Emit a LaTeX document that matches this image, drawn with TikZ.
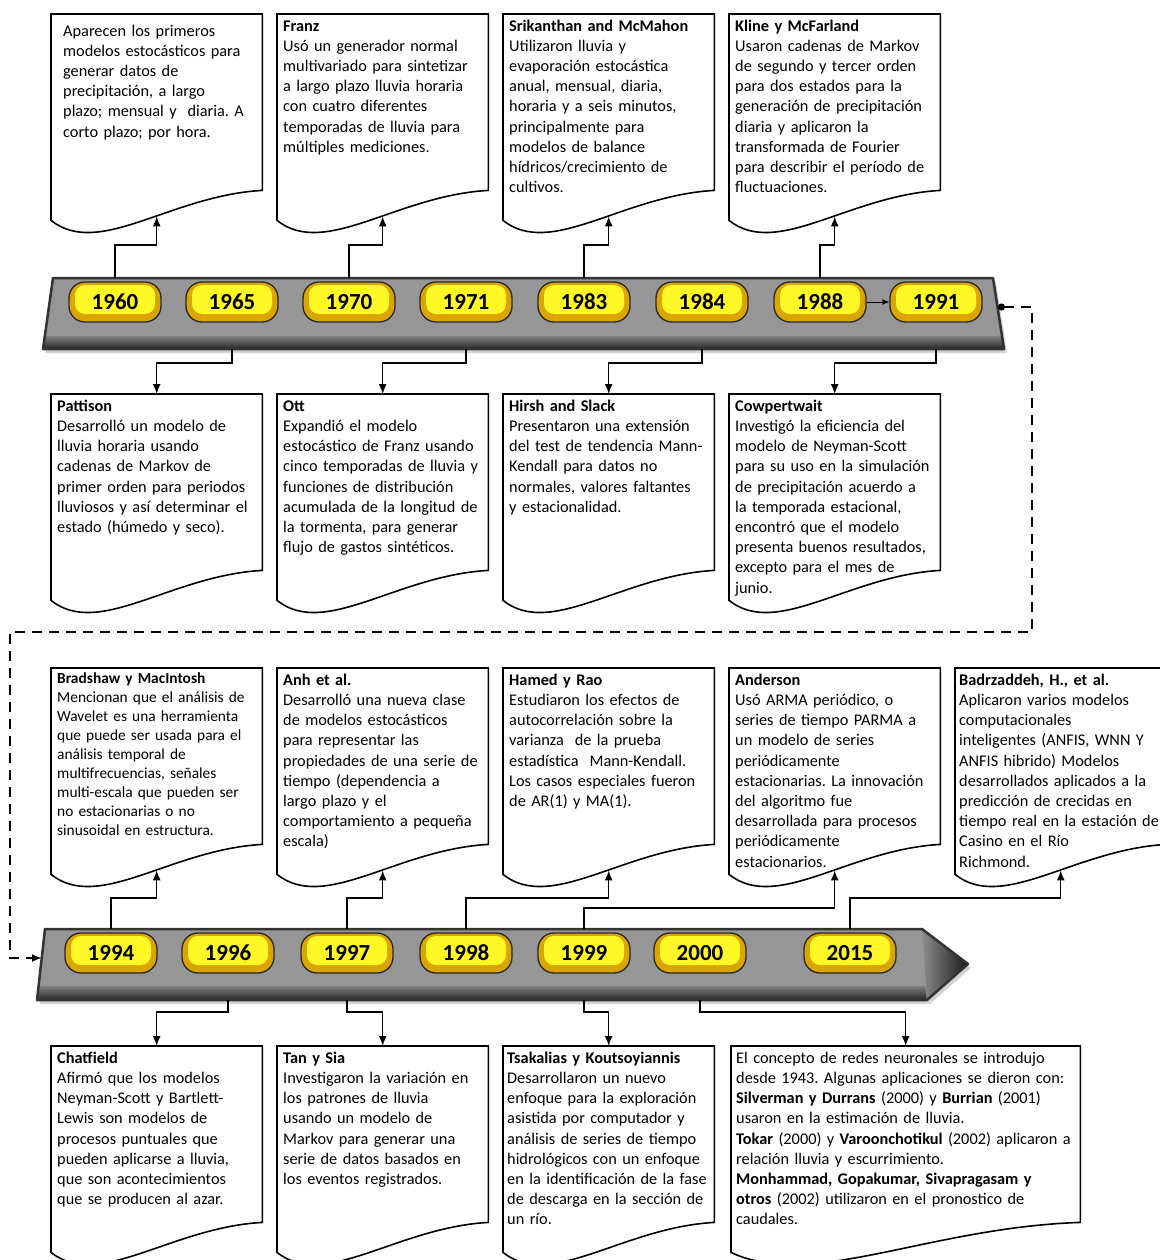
\documentclass[tikz,border=0pt]{standalone}
\usepackage{fontspec}
\setmainfont{Carlito}
\usetikzlibrary{arrows.meta,shadows}
\definecolor{btngold}{RGB}{218,165,0}
\definecolor{btnface}{RGB}{255,247,38}
\definecolor{bargray}{RGB}{150,150,150}
\frenchspacing
\tikzset{
    docbox/.style ={anchor=north west,text width=199pt,align=left,inner xsep=6pt,inner ysep=5pt,
        text height=12pt,text depth=154pt,font=\fontsize{16.3}{20.2}\selectfont},
    docline/.style ={draw=black,line width=1.6pt},
    yearbtn/.style ={rounded corners=16pt,minimum width=92pt,minimum height=40pt,draw=black!85,
        line width=1.3pt,fill=btngold,font=\fontsize{23}{23}\selectfont\bfseries,
        path picture={\fill[btnface,rounded corners=10pt]
            ([shift={(6pt,-3pt)}]path picture bounding box.north west) rectangle
            ([shift={(-6pt,8pt)}]path picture bounding box.south east);}},
    link/.style ={line width=1.5pt,-{Latex[length=10pt,width=8pt]}},
    dashlink/.style ={line width=2.4pt,dash pattern=on 10pt off 7pt,
        {Circle[length=7pt]}-{Latex[length=10pt,width=8pt]}},
    barbody/.style ={fill=bargray,drop shadow={shadow xshift=3pt,shadow yshift=-4pt,opacity=.35}},
    barband/.style ={top color=black!50,bottom color=black!85},
    barframe/.style ={draw=black!80,line width=2.5pt,line join=round}
}
\begin{document}
\begin{tikzpicture}[x=1pt,y=-1pt]
\useasboundingbox (0,0) rectangle (1159,1260);

% timeline 1
\fill[barbody] (53,278) -- (993,278) -- (1004,349) -- (43,349) -- cycle;
\shade[barband] (45,336) -- (1002,336) -- (1004,349) -- (43,349) -- cycle;
\draw[barframe] (53,278) -- (993,278) -- (1004,349) -- (43,349) -- cycle;
\coordinate (tl1top) at (0,278);
\coordinate (tl1bot) at (0,349);
\coordinate (tl1out) at (998,307);

% timeline 2
\fill[barbody] (45,929) -- (922,929) -- (968,964) -- (927,1000) -- (37,1000) -- cycle;
\shade[barband] (39,986) -- (925,986) -- (927,1000) -- (37,1000) -- cycle;
\shade[left color=black!45,right color=black!90] (922,929) -- (968,964) -- (927,1000) -- cycle;
\draw[barframe] (45,929) -- (922,929) -- (968,964) -- (927,1000) -- (37,1000) -- cycle;
\coordinate (tl2top) at (0,929);
\coordinate (tl2bot) at (0,1000);
\coordinate (tl2in) at (42,958);

% years
\node[yearbtn] (y1960) at (115,302) {1960};
\node[yearbtn] (y1965) at (232,302) {1965};
\node[yearbtn] (y1970) at (349,302) {1970};
\node[yearbtn] (y1971) at (466,302) {1971};
\node[yearbtn] (y1983) at (584,302) {1983};
\node[yearbtn] (y1984) at (702,302) {1984};
\node[yearbtn] (y1988) at (820,302) {1988};
\node[yearbtn] (y1991) at (936,302) {1991};
\node[yearbtn] (y1994) at (111,953) {1994};
\node[yearbtn] (y1996) at (228,953) {1996};
\node[yearbtn] (y1997) at (347,953) {1997};
\node[yearbtn] (y1998) at (466,953) {1998};
\node[yearbtn] (y1999) at (584,953) {1999};
\node[yearbtn] (y2000) at (700,953) {2000};
\node[yearbtn] (y2015) at (850,953) {2015};

% boxes, row 1
\node[docbox,inner xsep=12pt,text width=187pt,inner ysep=10pt,text depth=144pt] (bA) at (51,14)
    {Aparecen los primeros\\ modelos estocásticos para\\ generar datos de\\ precipitación, a largo\\ plazo; mensual y\ \ diaria. A\\ corto plazo; por hora.};
\node[docbox] (bB) at (277,14)
    {\textbf{Franz}\\ Usó un generador normal\\ multivariado para sintetizar\\ a largo plazo lluvia horaria\\ con cuatro diferentes\\ temporadas de lluvia para\\ múltiples mediciones.};
\node[docbox] (bC) at (503,14)
    {\textbf{Srikanthan and McMahon}\\ Utilizaron lluvia y\\ evaporación estocástica\\ anual, mensual, diaria,\\ horaria y a seis minutos,\\ principalmente para\\ modelos de balance\\ hídricos/crecimiento de\\ cultivos.};
\node[docbox] (bD) at (729,14)
    {\textbf{Kline y McFarland}\\ Usaron cadenas de Markov\\ de segundo y tercer orden\\ para dos estados para la\\ generación de precipitación\\ diaria y aplicaron la\\ transformada de Fourier\\ para describir el período de\\ fluctuaciones.};

% boxes, row 2
\node[docbox] (bE) at (51,394)
    {\textbf{Pattison}\\ Desarrolló un modelo de\\ lluvia horaria usando\\ cadenas de Markov de\\ primer orden para periodos\\ lluviosos y así determinar el\\ estado (húmedo y seco).};
\node[docbox] (bF) at (277,394)
    {\textbf{Ott}\\ Expandió el modelo\\ estocástico de Franz usando\\ cinco temporadas de lluvia y\\ funciones de distribución\\ acumulada de la longitud de\\ la tormenta, para generar\\ flujo de gastos sintéticos.};
\node[docbox] (bG) at (503,394)
    {\textbf{Hirsh and Slack}\\ Presentaron una extensión\\ del test de tendencia Mann-\\ Kendall para datos no\\ normales, valores faltantes\\ y estacionalidad.};
\node[docbox] (bH) at (729,394)
    {\textbf{Cowpertwait}\\ Investigó la eficiencia del\\ modelo de Neyman-Scott\\ para su uso en la simulación\\ de precipitación acuerdo a\\ la temporada estacional,\\ encontró que el modelo\\ presenta buenos resultados,\\ excepto para el mes de\\ junio.};

% boxes, row 3
\node[docbox,font=\fontsize{15.4}{19}\selectfont,inner ysep=3pt,text depth=158pt] (bI) at (51,668)
    {\textbf{Bradshaw y MacIntosh}\\ Mencionan que el análisis de\\ Wavelet es una herramienta\\ que puede ser usada para el\\ análisis temporal de\\ multifrecuencias, señales\\ multi-escala que pueden ser\\ no estacionarias o no\\ sinusoidal en estructura.};
\node[docbox] (bJ) at (277,668)
    {\textbf{Anh et al.}\\ Desarrolló una nueva clase\\ de modelos estocásticos\\ para representar las\\ propiedades de una serie de\\ tiempo (dependencia a\\ largo plazo y el\\ comportamiento a pequeña\\ escala)};
\node[docbox] (bK) at (503,668)
    {\textbf{Hamed y Rao}\\ Estudiaron los efectos de\\ autocorrelación sobre la\\ varianza\ \ de la prueba\\ estadística\ \ Mann-Kendall.\\ Los casos especiales fueron\\ de AR(1) y MA(1).};
\node[docbox] (bL) at (729,668)
    {\textbf{Anderson}\\ Usó ARMA periódico, o\\ series de tiempo PARMA a\\ un modelo de series\\ periódicamente\\ estacionarias. La innovación\\ del algoritmo fue\\ desarrollada para procesos\\ periódicamente\\ estacionarios.};
\node[docbox,inner xsep=4pt,text width=203pt] (bM) at (955,668)
    {\textbf{Badrzaddeh, H., et al.}\\ Aplicaron varios modelos\\ computacionales\\ inteligentes (ANFIS, WNN Y\\ ANFIS hibrido) Modelos\\ desarrollados aplicados a la\\ predicción de crecidas en\\ tiempo real en la estación de\\ Casino en el Río\\ Richmond.};

% boxes, row 4
\node[docbox] (bN) at (51,1046)
    {\textbf{Chatfield}\\ Afirmó que los modelos\\ Neyman-Scott y Bartlett-\\ Lewis son modelos de\\ procesos puntuales que\\ pueden aplicarse a lluvia,\\ que son acontecimientos\\ que se producen al azar.};
\node[docbox] (bO) at (277,1046)
    {\textbf{Tan y Sia}\\ Investigaron la variación en\\ los patrones de lluvia\\ usando un modelo de\\ Markov para generar una\\ serie de datos basados en\\ los eventos registrados.};
\node[docbox,inner xsep=4pt,text width=203pt] (bP) at (503,1046)
    {\textbf{Tsakalias y Koutsoyiannis}\\ Desarrollaron un nuevo\\ enfoque para la exploración\\ asistida por computador y\\ análisis de series de tiempo\\ hidrológicos con un enfoque\\ en la identificación de la fase\\ de descarga en la sección de\\ un río.};
\node[docbox,text width=339pt,inner xsep=5pt] (bQ) at (731,1046)
    {El concepto de redes neuronales se introdujo\\ desde 1943. Algunas aplicaciones se dieron con:\\
     \textbf{Silverman y Durrans} (2000) y \textbf{Burrian} (2001)\\ usaron en la estimación de lluvia.\\
     \textbf{Tokar} (2000) y \textbf{Varoonchotikul} (2002) aplicaron a\\ relación lluvia y escurrimiento.\\
     \textbf{Monhammad, Gopakumar, Sivapragasam y}\\ \textbf{otros} (2002) utilizaron en el pronostico de\\ caudales.};

% document outlines
\foreach \b in {bA,bB,bC,bD,bE,bF,bG,bH,bI,bJ,bK,bL,bM,bN,bO,bP}
    \draw[docline] (\b.north west) -- (\b.north east) -- (\b.south east)
        .. controls +(-92,5) and +(48,38) .. ([yshift=-30pt]\b.south west) -- cycle;
\draw[docline] (bQ.north west) -- (bQ.north east) -- (bQ.south east)
    .. controls +(-153,5) and +(80,38) .. ([yshift=-30pt]bQ.south west) -- cycle;

% links above timeline 1
\draw[link] (y1960.north |- tl1top) -- ++(0,-33) -| ([yshift=-26pt]bA.south);
\draw[link] (y1970.north |- tl1top) -- ++(0,-33) -| ([yshift=-26pt]bB.south);
\draw[link] (y1983.north |- tl1top) -- ++(0,-33) -| ([yshift=-26pt]bC.south);
\draw[link] (y1988.north |- tl1top) -- ++(0,-33) -| ([yshift=-26pt]bD.south);
% links below timeline 1
\draw[link] (y1965.south |- tl1bot) -- ++(0,14) -| (bE.north);
\draw[link] (y1971.south |- tl1bot) -- ++(0,14) -| (bF.north);
\draw[link] (y1984.south |- tl1bot) -- ++(0,14) -| (bG.north);
\draw[link] (y1991.south |- tl1bot) -- ++(0,14) -| (bH.north);
\draw[line width=1pt,-{Latex[length=7pt,width=6pt]}] (y1988) -- (y1991);

% from timeline 1 to timeline 2
\draw[dashlink] (tl1out) -| (1032,632) -| (10,958) -- (tl2in);

% links above timeline 2
\draw[link] (y1994.north |- tl2top) -- ++(0,-31) -| ([yshift=-26pt]bI.south);
\draw[link] (y1997.north |- tl2top) -- ++(0,-31) -| ([yshift=-26pt]bJ.south);
\draw[link] (y1998.north |- tl2top) -- ++(0,-31) -| ([yshift=-26pt]bK.south);
\draw[link] (y1999.north |- tl2top) -- ++(0,-21) -| ([yshift=-26pt]bL.south);
\draw[link] (y2015.north |- tl2top) -- ++(0,-31) -| ([yshift=-26pt]bM.south);
% links below timeline 2
\draw[link] (y1996.south |- tl2bot) -- ++(0,12) -| (bN.north);
\draw[link] (y1997.south |- tl2bot) -- ++(0,12) -| (bO.north);
\draw[link] (y1999.south |- tl2bot) -- ++(0,12) -| (bP.north);
\draw[link] (y2000.south |- tl2bot) -- ++(0,12) -| (bQ.north);
\end{tikzpicture}
\end{document}
